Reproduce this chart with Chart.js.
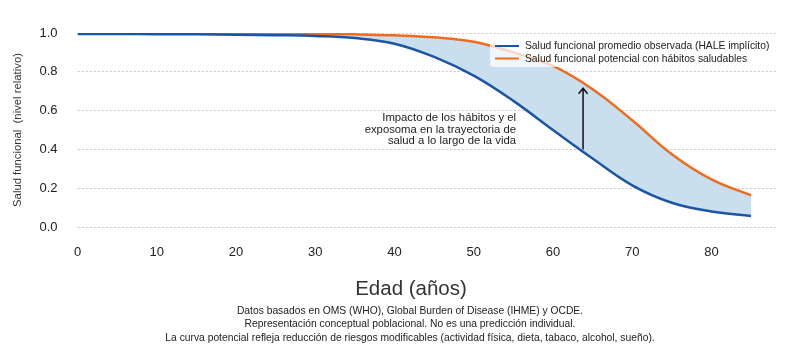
<!DOCTYPE html>
<html lang="es">
<head>
<meta charset="utf-8">
<title>Salud funcional por edad</title>
<script src="https://cdn.jsdelivr.net/npm/chart.js@4.4.1/dist/chart.umd.min.js"></script>
<style>
  html, body { margin: 0; padding: 0; background: #fff; }
</style>
</head>
<body>
<canvas id="chart" width="800" height="360"></canvas>
<script>
// edades (años) y curvas
const ages = [0, 5, 10, 15, 20, 25, 30, 35, 40, 45, 50, 55, 60, 65, 70, 75, 80, 85];
const observed = [0.995, 0.995, 0.994, 0.993, 0.991, 0.989, 0.985, 0.974, 0.945, 0.877, 0.78, 0.65, 0.50, 0.353, 0.215, 0.125, 0.08, 0.057];
const potential = [1.0, 1.0, 0.999, 0.999, 0.998, 0.997, 0.995, 0.993, 0.988, 0.978, 0.955, 0.90, 0.83, 0.71, 0.55, 0.375, 0.245, 0.163];

const seriesLabels = [
  "Salud funcional promedio observada (HALE implícito)",
  "Salud funcional potencial con hábitos saludables"
];
const seriesColors = ["#1a56a5", "#f26b1d"];
const fillColor = "#c9dfee";

const xTitle = "Edad (años)";
const yTitle = "Salud funcional  (nivel relativo)";
const notes = [
  "Datos basados en OMS (WHO), Global Burden of Disease (IHME) y OCDE.",
  "Representación conceptual poblacional. No es una predicción individual.",
  "La curva potencial refleja reducción de riesgos modificables (actividad física, dieta, tabaco, alcohol, sueño)."
];
const impactText = [
  "Impacto de los hábitos y el",
  "exposoma en la trayectoria de",
  "salud a lo largo de la vida"
];

// flecha: edad, valor de salida y valor de llegada
const arrowAge = 63.8;
const arrowFrom = 0.40;
const arrowTo = 0.715;

const FONT = "'Liberation Sans', Arial, sans-serif";
Chart.defaults.font.family = FONT;
Chart.defaults.color = "#222";

function toPoints(values) {
  return ages.map((a, i) => ({ x: a, y: values[i] }));
}

// texto, leyenda y flecha dibujados encima
const extras = {
  id: "extras",
  afterDatasetsDraw(chart) {
    const ctx = chart.ctx;
    const xs = chart.scales.x;
    const ys = chart.scales.y;

    ctx.save();

    // flecha
    const ax = xs.getPixelForValue(arrowAge);
    const y0 = ys.getPixelForValue(arrowFrom);
    const y1 = ys.getPixelForValue(arrowTo);
    ctx.strokeStyle = "#111";
    ctx.lineWidth = 1.5;
    ctx.beginPath();
    ctx.moveTo(ax, y0);
    ctx.lineTo(ax, y1 + 1);
    ctx.moveTo(ax - 4.5, y1 + 5.5);
    ctx.lineTo(ax, y1);
    ctx.lineTo(ax + 4.5, y1 + 5.5);
    ctx.stroke();

    // texto del impacto
    ctx.fillStyle = "#222";
    ctx.font = "11.3px " + FONT;
    ctx.textAlign = "right";
    ctx.textBaseline = "middle";
    impactText.forEach((t, i) => ctx.fillText(t, 516, 118 + i * 11.5));

    // leyenda
    ctx.fillStyle = "rgba(255,255,255,0.72)";
    ctx.beginPath();
    ctx.roundRect(490, 40, 287, 27, 4);
    ctx.fill();
    ctx.font = "10.3px " + FONT;
    ctx.textAlign = "left";
    chart.data.datasets.forEach((ds, i) => {
      const ly = 46 + i * 12.5;
      ctx.strokeStyle = ds.borderColor;
      ctx.lineWidth = 2;
      ctx.beginPath();
      ctx.moveTo(495, ly);
      ctx.lineTo(519, ly);
      ctx.stroke();
      ctx.fillStyle = "#222";
      ctx.fillText(ds.label, 525, ly + 0.5);
    });

    ctx.restore();
  },
  afterDraw(chart) {
    const ctx = chart.ctx;
    ctx.save();
    ctx.fillStyle = "#333";
    ctx.textAlign = "center";
    ctx.textBaseline = "middle";
    ctx.font = "20.5px " + FONT;
    ctx.fillText(xTitle, 411, 289);
    ctx.fillStyle = "#222";
    ctx.font = "10.3px " + FONT;
    notes.forEach((t, i) => ctx.fillText(t, 410, 311 + i * 13.5));
    ctx.restore();
  }
};

new Chart(document.getElementById("chart"), {
  type: "line",
  data: {
    datasets: [
      {
        label: seriesLabels[0],
        data: toPoints(observed),
        borderColor: seriesColors[0],
        backgroundColor: fillColor,
        borderWidth: 2.5,
        fill: "+1",
        pointRadius: 0,
        tension: 0.4
      },
      {
        label: seriesLabels[1],
        data: toPoints(potential),
        borderColor: seriesColors[1],
        borderWidth: 2.5,
        fill: false,
        pointRadius: 0,
        tension: 0.4
      }
    ]
  },
  options: {
    responsive: false,
    animation: false,
    layout: { padding: { left: 0, top: 33, right: 22, bottom: 81.4 } },
    plugins: {
      legend: { display: false },
      tooltip: { enabled: false },
      filler: { drawTime: "beforeDatasetsDraw" }
    },
    scales: {
      x: {
        type: "linear",
        min: 0,
        max: 88.4,
        border: { display: false },
        grid: { display: false, drawTicks: false },
        afterBuildTicks: (scale) => {
          scale.ticks = scale.ticks.filter(t => t.value % 10 === 0);
        },
        ticks: { stepSize: 10, padding: 18, color: "#222", font: { size: 13 } }
      },
      y: {
        min: 0,
        max: 1,
        border: { display: false, dash: [1.5, 2.5] },
        grid: {
          color: "#b8b8b8",
          lineWidth: 1,
          drawTicks: true,
          tickLength: 15,
          tickColor: "rgba(0,0,0,0)"
        },
        ticks: {
          stepSize: 0.2,
          padding: 5,
          color: "#222",
          font: { size: 13 },
          callback: (v) => v.toFixed(1)
        },
        title: {
          display: true,
          text: yTitle,
          color: "#333",
          font: { size: 11.3 },
          padding: { top: 11.2, bottom: 9.7 }
        }
      }
    }
  },
  plugins: [extras]
});
</script>
</body>
</html>
